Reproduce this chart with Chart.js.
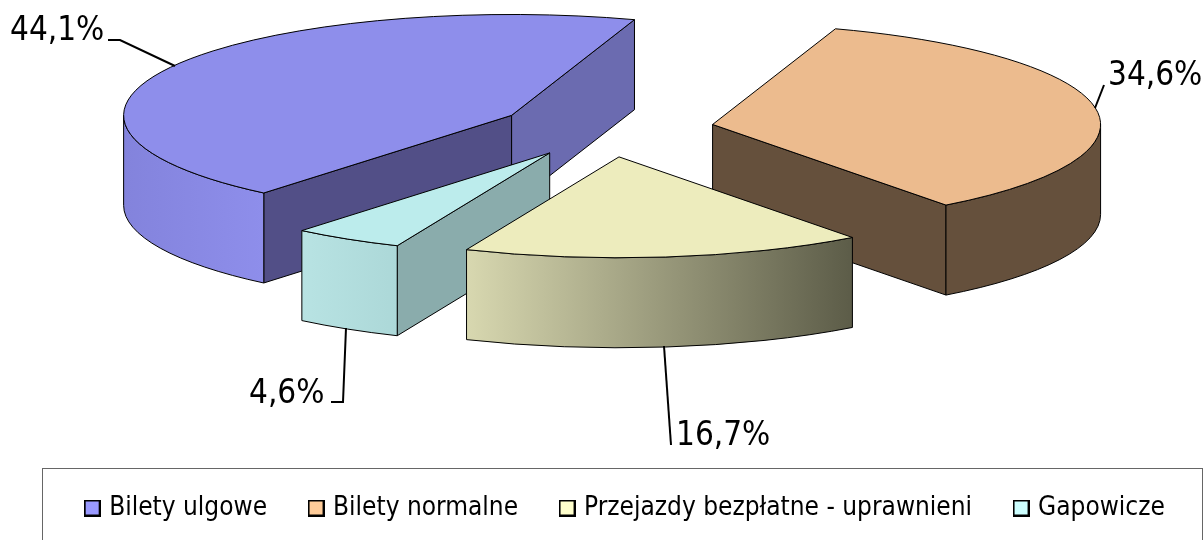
<!DOCTYPE html>
<html>
<head>
<meta charset="utf-8">
<title>Struktura pasażerów</title>
<script src="https://cdn.jsdelivr.net/npm/chart.js@4"></script>
<style>
  html, body { margin: 0; padding: 0; background: #fff; overflow: hidden; }
  canvas { display: block; }
</style>
</head>
<body>
<canvas id="pieChart" width="1204" height="540"></canvas>
<script>
// Chart data
const categories = ['Bilety ulgowe', 'Bilety normalne', 'Przejazdy bezpłatne - uprawnieni', 'Gapowicze'];
const shares = [44.1, 34.6, 16.7, 4.6];
const legendColors = ['#9999ff', '#ffcc99', '#ffffcc', '#ccffff'];

// Shading of each slice: top face, the two flat cut faces, curved wall
const sliceStyles = [
  { top: '#8e8eeb', startFace: '#524f87', endFace: '#6b6bb0', wallFrom: '#8383dc', wallTo: '#8e8eeb' },
  { top: '#ecbb8e', startFace: '#65503c', endFace: '#65503c', wallFrom: '#65503c', wallTo: '#65503c' },
  { top: '#edecbd', startFace: '#a5a582', endFace: '#a5a582', wallFrom: '#d8d8b0', wallTo: '#5c5c48' },
  { top: '#bcecec', startFace: '#8aacac', endFace: '#8aacac', wallFrom: '#b8e3e3', wallTo: '#acd8d8' }
];

// Where the percentage labels and their leader lines sit
const labelSpots = [
  { x: 10, y: 40, line: [[108, 40], [120, 40], [175, 66]] },
  { x: 1108, y: 85, line: [[1104, 85], [1095, 108]] },
  { x: 676, y: 445, line: [[664, 346], [671, 445]] },
  { x: 249, y: 403, line: [[346, 328], [343, 402], [331, 402]] }
];

const FONT_FAMILY = '"DejaVu Sans Condensed", "DejaVu Sans", sans-serif';
const CENTER_X = 606;
const CENTER_Y = 129;
const SQUASH = 0.26; // flattening of the pie
const DEPTH = 90;    // height of the extruded wall

function makeSwatch(color) {
  const c = document.createElement('canvas');
  c.width = 17;
  c.height = 17;
  const g = c.getContext('2d');
  g.fillStyle = color;
  g.strokeStyle = '#000';
  g.lineWidth = 2;
  g.fillRect(1, 1, 15, 15);
  g.strokeRect(1, 1, 15, 15);
  return c;
}

// Draws the pie elements Chart.js laid out, as flattened extruded slices
const pie3d = {
  id: 'pie3d',
  beforeDraw(chart) {
    const ctx = chart.ctx;
    ctx.save();
    ctx.fillStyle = '#fff';
    ctx.fillRect(0, 0, chart.width, chart.height);
    ctx.strokeStyle = '#666';
    ctx.lineWidth = 1;
    ctx.strokeRect(42.5, 468.5, 1160, 90);
    ctx.restore();
  },
  beforeDatasetsDraw(chart) {
    const ctx = chart.ctx;
    const arcs = chart.getDatasetMeta(0).data;

    const slices = arcs.map((arc, i) => {
      const mid = (arc.startAngle + arc.endAngle) / 2;
      return {
        arc,
        style: sliceStyles[i],
        x: CENTER_X + Math.cos(mid) * arc.options.offset,
        y: CENTER_Y + Math.sin(mid) * arc.options.offset * SQUASH
      };
    });

    // back to front
    slices.sort((a, b) => a.y - b.y).forEach(s => drawSlice(ctx, s));

    ctx.save();
    ctx.strokeStyle = '#000';
    ctx.lineWidth = 2;
    ctx.fillStyle = '#000';
    ctx.font = '33px ' + FONT_FAMILY;
    ctx.textBaseline = 'alphabetic';
    labelSpots.forEach((spot, i) => {
      ctx.beginPath();
      spot.line.forEach((p, k) => (k ? ctx.lineTo(p[0], p[1]) : ctx.moveTo(p[0], p[1])));
      ctx.stroke();
      ctx.fillText(shares[i].toFixed(1).replace('.', ',') + '%', spot.x, spot.y);
    });
    ctx.restore();
    return false; // the default flat arcs are not wanted
  }
};

function rimPoint(s, angle) {
  const r = s.arc.outerRadius;
  return [s.x + Math.cos(angle) * r, s.y + Math.sin(angle) * r * SQUASH];
}

function drawFace(ctx, s, angle, color) {
  const p = rimPoint(s, angle);
  ctx.beginPath();
  ctx.moveTo(s.x, s.y);
  ctx.lineTo(p[0], p[1]);
  ctx.lineTo(p[0], p[1] + DEPTH);
  ctx.lineTo(s.x, s.y + DEPTH);
  ctx.closePath();
  ctx.fillStyle = color;
  ctx.fill();
  ctx.stroke();
}

function drawWall(ctx, s, from, to) {
  const r = s.arc.outerRadius;
  const left = rimPoint(s, to)[0];
  const right = rimPoint(s, from)[0];
  const grad = ctx.createLinearGradient(left, 0, right, 0);
  grad.addColorStop(0, s.style.wallFrom);
  grad.addColorStop(1, s.style.wallTo);
  ctx.beginPath();
  ctx.ellipse(s.x, s.y, r, r * SQUASH, 0, from, to);
  ctx.ellipse(s.x, s.y + DEPTH, r, r * SQUASH, 0, to, from, true);
  ctx.closePath();
  ctx.fillStyle = grad;
  ctx.fill();
  ctx.stroke();
}

function drawSlice(ctx, s) {
  const { startAngle, endAngle, outerRadius } = s.arc;
  ctx.save();
  ctx.strokeStyle = '#000';
  ctx.lineWidth = 1;
  ctx.lineJoin = 'round';

  // flat cut faces, only the ones turned towards the viewer
  if (Math.cos(startAngle) < 0) drawFace(ctx, s, startAngle, s.style.startFace);
  if (Math.cos(endAngle) > 0) drawFace(ctx, s, endAngle, s.style.endFace);

  // curved wall, only the front half of the rim
  [0, 2 * Math.PI].forEach(base => {
    const from = Math.max(startAngle, base);
    const to = Math.min(endAngle, base + Math.PI);
    if (to > from) drawWall(ctx, s, from, to);
  });

  // top face
  ctx.beginPath();
  ctx.moveTo(s.x, s.y);
  ctx.ellipse(s.x, s.y, outerRadius, outerRadius * SQUASH, 0, startAngle, endAngle);
  ctx.closePath();
  ctx.fillStyle = s.style.top;
  ctx.fill();
  ctx.stroke();
  ctx.restore();
}

new Chart(
  document.getElementById('pieChart'),
  {
    type: 'pie',
    data: {
      labels: categories,
      datasets: [
        {
          data: shares,
          backgroundColor: legendColors,
          radius: 388,
          offset: 108
        }
      ]
    },
    options: {
      responsive: false,
      animation: false,
      rotation: 219.7,
      layout: { padding: { left: 39, right: -10, bottom: 9 } },
      plugins: {
        tooltip: { enabled: false },
        legend: {
          position: 'bottom',
          labels: {
            usePointStyle: true,
            pointStyleWidth: 8,
            padding: 45,
            color: '#000',
            font: { family: FONT_FAMILY, size: 26 },
            generateLabels: () => categories.map((text, i) => ({
              text,
              index: i,
              hidden: false,
              fontColor: '#000',
              pointStyle: makeSwatch(legendColors[i])
            }))
          }
        }
      }
    },
    plugins: [pie3d]
  }
);
</script>
</body>
</html>
